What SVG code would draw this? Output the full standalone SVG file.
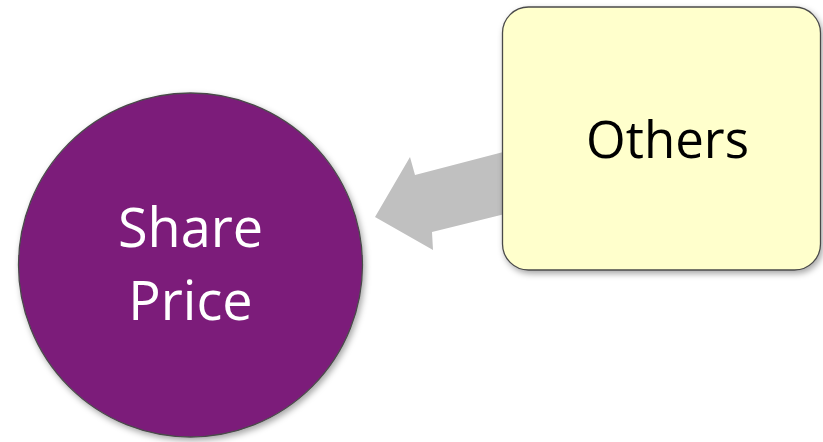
<svg xmlns="http://www.w3.org/2000/svg" width="823" height="442" viewBox="0 0 823 442">
  <style>
    .label { font-family: "Open Sans", "Noto Sans", "Liberation Sans", sans-serif; text-anchor: middle; }
    .node-shape { stroke: #4a4a4a; stroke-width: 1.3; filter: url(#shadow); }
  </style>
  <defs>
    <filter id="shadow" x="-10%" y="-10%" width="125%" height="125%">
      <feDropShadow dx="2" dy="3" stdDeviation="3" flood-color="#000" flood-opacity="0.35"/>
    </filter>
  </defs>
  <rect width="823" height="442" fill="#ffffff"/>

  <!-- block arrow from Others to Share Price -->
  <g id="connectors">
    <polygon points="375,217 410,157 415,175 545,141 562,200 432,232 433,250" fill="#c0c0c0"/>
  </g>

  <g id="share-price">
    <circle class="node-shape" cx="190.5" cy="265" r="172" fill="#7b1f7a"/>
    <text class="label" x="190.5" y="247" font-size="54" fill="#ffffff">Share</text>
    <text class="label" x="190.5" y="320" font-size="54" fill="#ffffff">Price</text>
  </g>

  <g id="others">
    <rect class="node-shape" x="502.5" y="7" width="318" height="263" rx="26" ry="26" fill="#ffffcc"/>
    <text class="label" x="667.5" y="158" font-size="51" fill="#000000">Others</text>
  </g>
</svg>
